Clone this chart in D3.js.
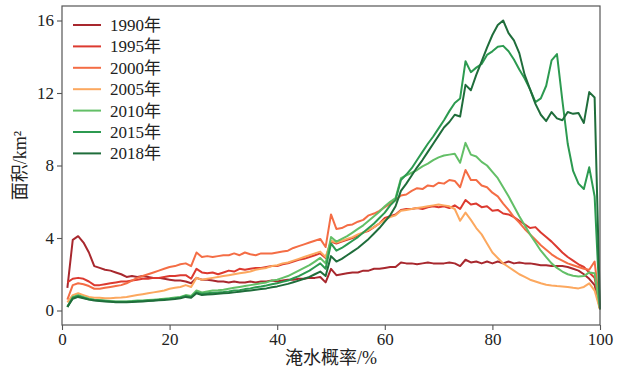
<!DOCTYPE html>
<html>
<head>
<meta charset="utf-8">
<script src="https://cdn.jsdelivr.net/npm/d3@7"></script>
<style>
  body { margin: 0; background: #fff; }
  svg { display: block; }
</style>
</head>
<body>
<div class="chartDiv"></div>
<script>

// ---------------- data ----------------

// flooding probability, 1..100 %
let prob = d3.range(1, 101)

let years = ["1990年", "1995年", "2000年", "2005年", "2010年", "2015年", "2018年"]
let colors = ["#a8282e", "#dc3a30", "#f46d45", "#fca85f", "#63bf67", "#2c9a50", "#1f6d3b"]

let y1990 = [1.25,3.9,4.1,3.75,3.2,2.45,2.35,2.25,2.2,2.1, 2.0,1.85,1.9,1.85,1.9,1.85,1.8,1.8,1.75,1.7,
  1.65,1.65,1.6,1.5,1.8,1.7,1.7,1.65,1.6,1.6, 1.55,1.6,1.55,1.55,1.6,1.55,1.6,1.6,1.65,1.6,
  1.65,1.7,1.7,1.75,1.75,1.8,1.8,1.85,1.55,2.3, 1.95,2.0,2.05,2.1,2.1,2.2,2.2,2.3,2.3,2.35,
  2.4,2.4,2.65,2.6,2.6,2.55,2.6,2.65,2.6,2.6, 2.6,2.65,2.6,2.45,2.8,2.65,2.7,2.6,2.7,2.6,
  2.7,2.6,2.7,2.6,2.65,2.6,2.6,2.55,2.5,2.5, 2.45,2.45,2.45,2.4,2.3,2.2,2.0,1.75,1.4,0.1]

let y1995 = [1.55,1.75,1.8,1.75,1.6,1.4,1.4,1.45,1.5,1.55, 1.6,1.6,1.65,1.7,1.75,1.75,1.8,1.8,1.85,1.9,
  1.9,1.95,1.95,1.75,2.3,2.1,2.05,2.1,2.0,2.1, 2.2,2.15,2.3,2.25,2.3,2.35,2.35,2.4,2.45,2.45,
  2.55,2.6,2.7,2.8,2.85,2.95,3.05,3.15,2.9,3.8, 3.7,3.8,3.9,4.0,4.15,4.3,4.4,4.6,4.8,5.1,
  5.2,5.3,5.55,5.6,5.6,5.65,5.6,5.7,5.75,5.7, 5.75,5.65,5.8,5.6,6.1,5.85,5.9,5.7,5.75,5.5,
  5.55,5.35,5.3,5.15,4.95,4.75,4.55,4.6,4.3,4.05, 3.8,3.5,3.2,2.95,2.75,2.55,2.4,2.1,1.8,0.1]

let y2000 = [0.6,1.4,1.5,1.45,1.35,1.2,1.2,1.25,1.3,1.35, 1.4,1.5,1.65,1.8,1.9,2.0,2.1,2.2,2.3,2.4,
  2.45,2.55,2.6,2.45,3.2,2.95,3.0,2.95,3.0,3.05, 3.05,3.15,3.05,3.2,3.1,3.05,3.15,3.15,3.15,3.2,
  3.25,3.3,3.45,3.55,3.65,3.75,3.85,3.95,3.5,5.3, 4.5,4.55,4.7,4.75,4.9,5.0,5.25,5.35,5.5,5.7,
  5.9,6.1,6.35,6.4,6.6,6.75,6.7,6.9,6.85,7.05, 7.0,7.2,7.15,6.8,7.75,7.2,7.2,6.9,6.8,6.5,
  6.3,5.9,5.55,5.15,4.85,4.5,4.2,3.9,3.6,3.35, 3.1,2.9,2.75,2.6,2.5,2.4,2.3,2.25,2.7,0.1]

let y2005 = [0.45,0.85,0.95,0.85,0.75,0.7,0.7,0.68,0.68,0.7, 0.72,0.75,0.8,0.85,0.9,0.95,1.0,1.05,1.1,1.2,
  1.25,1.3,1.4,1.3,1.8,1.7,1.75,1.8,1.85,1.9, 1.95,2.0,2.05,2.1,2.15,2.25,2.3,2.35,2.45,2.5,
  2.6,2.65,2.75,2.85,2.95,3.05,3.15,3.25,2.95,3.85, 3.75,3.85,3.95,4.05,4.2,4.3,4.45,4.6,4.8,5.0,
  5.15,5.25,5.5,5.55,5.6,5.65,5.7,5.75,5.8,5.85, 5.8,5.75,5.6,4.95,5.4,5.0,4.55,4.2,3.7,3.2,
  2.9,2.6,2.4,2.2,2.0,1.85,1.7,1.6,1.5,1.42, 1.38,1.35,1.33,1.3,1.25,1.22,1.3,1.5,1.1,0.05]

let y2010 = [0.2,0.75,0.85,0.75,0.65,0.6,0.58,0.55,0.52,0.5, 0.5,0.5,0.52,0.55,0.55,0.58,0.6,0.62,0.65,0.68,
  0.72,0.75,0.85,0.8,1.1,1.0,1.05,1.1,1.12,1.15, 1.2,1.25,1.3,1.35,1.4,1.45,1.5,1.55,1.65,1.7,
  1.8,1.9,2.05,2.2,2.35,2.5,2.7,2.9,2.6,4.05, 3.8,3.95,4.1,4.3,4.5,4.7,4.95,5.2,5.45,5.75,
  6.0,6.2,7.3,7.45,7.6,7.75,7.95,8.1,8.3,8.45, 8.55,8.6,8.65,8.15,9.25,8.6,8.5,8.2,8.0,7.65,
  7.3,6.8,6.3,5.75,5.2,4.7,4.2,3.75,3.3,2.95, 2.6,2.35,2.15,2.0,1.92,1.88,1.9,2.1,2.05,0.1]

let y2015 = [0.2,0.7,0.8,0.7,0.62,0.58,0.55,0.52,0.5,0.48, 0.48,0.48,0.5,0.52,0.52,0.55,0.57,0.6,0.62,0.65,
  0.68,0.72,0.8,0.75,1.0,0.92,0.95,0.98,1.0,1.02, 1.05,1.1,1.12,1.18,1.22,1.28,1.32,1.38,1.45,1.5,
  1.58,1.65,1.78,1.9,2.05,2.2,2.4,2.6,2.3,3.7, 3.3,3.45,3.65,3.85,4.05,4.3,4.55,4.8,5.1,5.4,
  5.8,6.1,7.2,7.5,7.85,8.3,8.75,9.2,9.6,10.05, 10.5,11.0,11.45,11.7,13.75,13.15,13.4,13.6,14.1,14.3,
  14.55,14.6,14.3,13.85,13.3,12.8,12.2,11.5,11.7,12.4, 13.8,14.15,11.6,9.2,7.7,7.0,6.7,7.9,6.3,0.1]

let y2018 = [0.2,0.65,0.75,0.68,0.6,0.55,0.52,0.5,0.48,0.46, 0.45,0.45,0.47,0.48,0.5,0.52,0.54,0.56,0.58,0.6,
  0.63,0.67,0.75,0.7,0.95,0.85,0.88,0.9,0.92,0.95, 0.97,1.0,1.03,1.07,1.1,1.14,1.18,1.22,1.28,1.33,
  1.4,1.47,1.56,1.65,1.75,1.85,2.0,2.15,1.9,3.0, 2.7,2.85,3.05,3.25,3.45,3.7,3.95,4.25,4.55,4.9,
  5.25,5.75,6.6,7.0,7.45,7.9,8.3,8.75,9.2,9.65, 10.1,10.4,10.8,10.7,12.45,12.15,13.0,13.75,14.5,15.2,
  15.75,16.0,15.3,14.9,14.2,13.0,12.2,11.4,10.8,10.45, 10.95,10.6,10.5,10.95,10.85,10.9,10.35,12.05,11.75,0.05]

let seriesValues = [y1990, y1995, y2000, y2005, y2010, y2015, y2018]

let xTicks = [0, 20, 40, 60, 80, 100]
let yTicks = [0, 4, 8, 12, 16]

// ---------------- setup ----------------

let W = 624, H = 372
let margin = {top: 6, right: 24, bottom: 47, left: 62}

let x = d3.scaleLinear().domain([0, 100]).range([margin.left, W - margin.right])
let y = d3.scaleLinear().domain([-0.8, 16.8]).range([H - margin.bottom, margin.top])

let serif = "'Liberation Serif', 'DejaVu Serif', 'Noto Sans CJK SC', serif"

let svg = d3.select(".chartDiv").append("svg")
    .attr("width", W)
    .attr("height", H)
    .style("background-color", "white")

// lines
let line = d3.line()
    .x((d, i) => x(prob[i]))
    .y(d => y(d))

svg.append("g").selectAll("path")
    .data(seriesValues)
    .join("path")
    .attr("d", d => line(d))
    .attr("fill", "none")
    .attr("stroke", (d, i) => colors[i])
    .attr("stroke-width", 2)
    .attr("stroke-linejoin", "round")

// frame
svg.append("rect")
    .attr("x", margin.left)
    .attr("y", margin.top)
    .attr("width", W - margin.left - margin.right)
    .attr("height", H - margin.top - margin.bottom)
    .attr("fill", "none")
    .attr("stroke", "#555")
    .attr("stroke-width", 1.2)

// axes
let xAxis = svg.append("g")
    .attr("transform", "translate(0," + (H - margin.bottom) + ")")
    .call(d3.axisBottom(x).tickValues(xTicks).tickSize(5).tickPadding(3))

let yAxis = svg.append("g")
    .attr("transform", "translate(" + margin.left + ",0)")
    .call(d3.axisLeft(y).tickValues(yTicks).tickSize(5).tickPadding(3))

svg.selectAll(".domain").remove()
svg.selectAll(".tick line").attr("stroke", "#555").attr("stroke-width", 1.1)
svg.selectAll(".tick text")
    .style("font-family", serif)
    .style("font-size", "17px")
    .attr("fill", "#222")

// axis titles
svg.append("text")
    .attr("x", (margin.left + W - margin.right) / 2)
    .attr("y", 364)
    .attr("text-anchor", "middle")
    .style("font-family", serif)
    .style("font-size", "18px")
    .attr("fill", "#222")
    .text("淹水概率/%")

svg.append("text")
    .attr("transform", "translate(26," + ((margin.top + H - margin.bottom) / 2) + ") rotate(-90)")
    .attr("text-anchor", "middle")
    .style("font-family", serif)
    .style("font-size", "18px")
    .attr("fill", "#222")
    .text("面积/km²")

// legend
let legend = svg.append("g")
    .selectAll("g")
    .data(years)
    .join("g")
    .attr("transform", (d, i) => "translate(73," + (25 + i * 21.4) + ")")

legend.append("line")
    .attr("x1", 0).attr("x2", 28)
    .attr("stroke", (d, i) => colors[i])
    .attr("stroke-width", 2)

legend.append("text")
    .attr("x", 37)
    .attr("dy", "0.35em")
    .style("font-family", serif)
    .style("font-size", "17px")
    .attr("fill", "#222")
    .text(d => d)

</script>
</body>
</html>
